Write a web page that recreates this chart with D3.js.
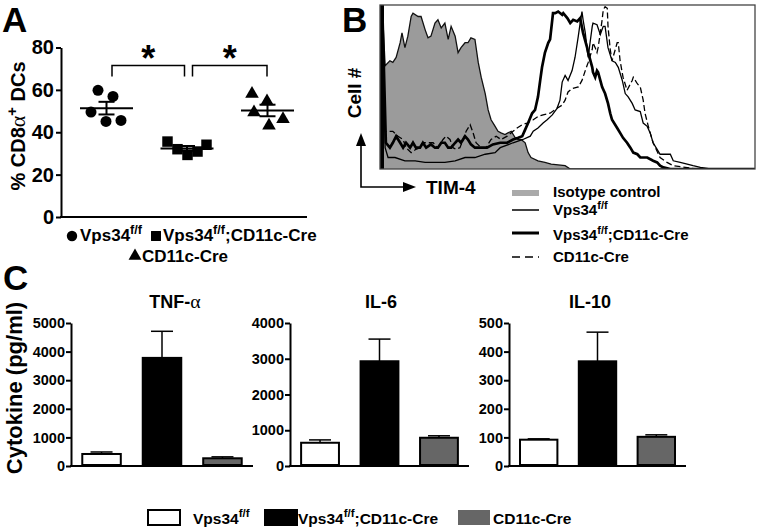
<!DOCTYPE html>
<html><head><meta charset="utf-8">
<script src="https://cdn.jsdelivr.net/npm/d3@7"></script>
<style>
body{margin:0;background:#fff;}
svg{display:block;font-family:"Liberation Sans",Arial,sans-serif;font-weight:bold;}
</style></head><body>
<svg id="fig" width="762" height="530"></svg>
<script>
// ================= DATA =================
// Panel A: % CD8a+ DCs, one value per mouse
const groupsA = ["Vps34^{f/f}", "Vps34^{f/f};CD11c-Cre", "CD11c-Cre"];
const cd8Vps34 = [59.8, 56.9, 49.5, 45.1, 45.6];
const cd8Cko   = [35.6, 32.0, 29.3, 30.9, 34.1];
const cd8Cre   = [58.1, 54.6, 49.4, 43.1, 46.2];
const ticksA   = [0, 20, 40, 60, 80];

// Panel B: TIM-4 histograms, [channel, % of max]
const tim4Isotype = [[0,0],[0,100],[6,100],[14,63],[27,66],[35,65],[44,68],[55,77],[60,83],[68,74],[76,81],[85,93],[90,95],[104,93],[112,93],[123,85],[131,80],[139,81],[150,89],[158,91],[167,86],[177,89],[186,79],[194,87],[205,81],[213,71],[221,74],[232,77],[240,77],[248,80],[259,79],[268,65],[276,56],[287,46],[295,36],[303,30],[314,26],[322,23],[330,22],[341,21],[349,22],[358,23],[369,19],[377,18],[385,18],[396,16],[404,10],[412,7],[431,5],[450,4],[467,3],[505,2],[519,0],[1023,0]];
const tim4Vps34 = [[0,0],[0,100],[6,100],[14,13],[22,7],[41,7],[68,5],[96,5],[123,4],[150,4],[177,4],[205,5],[232,7],[259,7],[287,9],[314,10],[328,13],[363,16],[390,18],[410,20],[418,23],[431,25],[445,28],[456,30],[470,33],[483,37],[491,42],[497,53],[505,57],[513,54],[524,60],[532,68],[541,81],[546,89],[551,96],[554,91],[560,83],[565,73],[568,68],[573,77],[579,87],[581,89],[592,88],[601,82],[609,87],[614,87],[622,74],[633,66],[642,65],[650,62],[661,54],[669,46],[677,44],[688,40],[696,36],[710,35],[718,28],[729,26],[737,22],[745,16],[756,12],[764,9],[792,9],[800,5],[819,4],[838,3],[854,2],[874,1],[901,0],[1023,0]];
const tim4Cko = [[0,0],[0,100],[6,100],[16,16],[27,13],[35,16],[44,20],[55,16],[63,13],[71,16],[82,13],[90,16],[98,13],[109,13],[117,16],[126,13],[139,15],[150,13],[158,13],[167,16],[177,16],[186,13],[194,13],[205,16],[213,18],[221,16],[232,20],[240,18],[248,15],[259,13],[276,13],[292,13],[308,15],[328,16],[347,16],[363,18],[377,19],[388,20],[396,24],[404,28],[415,34],[423,36],[431,44],[437,54],[442,62],[450,71],[459,77],[464,79],[472,95],[478,95],[486,96],[497,94],[500,95],[511,92],[519,89],[527,91],[538,90],[546,92],[554,83],[565,74],[568,71],[579,62],[581,59],[587,56],[592,60],[595,59],[601,54],[606,50],[614,46],[622,40],[628,34],[633,30],[647,25],[655,22],[663,19],[674,16],[683,13],[691,10],[702,9],[710,7],[729,7],[745,5],[756,4],[764,2],[773,1],[792,0],[1023,0]];
const tim4Cre = [[0,0],[0,100],[6,100],[14,23],[35,23],[49,20],[63,18],[71,13],[85,10],[98,12],[109,13],[117,16],[131,16],[145,16],[158,13],[172,18],[180,20],[191,18],[199,13],[207,12],[218,13],[227,18],[235,23],[246,27],[254,22],[262,16],[276,13],[289,13],[303,18],[317,20],[330,18],[347,20],[363,23],[374,25],[388,27],[401,28],[418,30],[431,32],[445,33],[464,34],[483,37],[497,39],[505,42],[513,47],[524,49],[541,50],[551,54],[560,60],[568,65],[579,73],[581,77],[587,74],[592,71],[595,74],[601,83],[606,91],[609,97],[614,99],[620,98],[622,87],[628,73],[633,66],[642,73],[647,77],[650,77],[655,66],[663,56],[674,48],[688,54],[691,56],[702,52],[710,50],[718,42],[723,34],[732,26],[745,16],[764,7],[783,4],[800,2],[833,1],[860,0],[1023,0]];
const legendB = ["Isotype control", "Vps34^{f/f}", "Vps34^{f/f};CD11c-Cre", "CD11c-Cre"];

// Panel C: cytokines (pg/ml), mean and SEM per genotype
const groupsC  = ["Vps34^{f/f}", "Vps34^{f/f};CD11c-Cre", "CD11c-Cre"];
const cytokines = ["TNF-α", "IL-6", "IL-10"];
const tnfMean  = [420, 3780, 270];
const tnfSem   = [70, 930, 50];
const il6Mean  = [650, 2930, 790];
const il6Sem   = [80, 620, 55];
const il10Mean = [92, 366, 102];
const il10Sem  = [3, 102, 7];
const tnfTicks  = [0, 1000, 2000, 3000, 4000, 5000];
const il6Ticks  = [0, 1000, 2000, 3000, 4000];
const il10Ticks = [0, 100, 200, 300, 400, 500];

// ================= HELPERS =================
const svg = d3.select("#fig");
function rich(sel, str, size){
  const parts = str.split(/(\^\{[^}]*\}|α)/).filter(s => s.length);
  let up = false;
  parts.forEach(p => {
    let t;
    if (p.startsWith("^{")) {
      t = sel.append("tspan").attr("font-size", size*0.74).attr("dy", -size*0.42).text(p.slice(2,-1));
      up = true; return;
    }
    t = sel.append("tspan").attr("font-size", size).text(p);
    if (p === "α") t.attr("font-family", "'Liberation Serif','DejaVu Serif',serif").attr("font-weight", "normal").attr("font-size", size*1.1);
    if (up) { t.attr("dy", size*0.42); up = false; }
  });
  return sel;
}
function styleAxis(g, fs, sw){
  g.selectAll("path.domain").attr("stroke","#000").attr("stroke-width",sw);
  g.selectAll(".tick line").attr("stroke","#000").attr("stroke-width",sw);
  g.selectAll(".tick text").attr("fill","#000").attr("font-size",fs).attr("font-weight","bold")
    .attr("font-family","'Liberation Sans',Arial,sans-serif");
}
const label = (x, y, s) => svg.append("text").attr("x",x).attr("y",y).attr("font-size",35).text(s);

// ================= PANEL A =================
label(2, 32, "A");
const yA = d3.scaleLinear().domain([0, 80]).range([217, 47.5]);
const xA = d3.scalePoint().domain(groupsA).range([106.5, 267.5]);
const gAy = svg.append("g").attr("transform","translate(61,0)")
  .call(d3.axisLeft(yA).tickValues(ticksA).tickSize(5).tickSizeOuter(0).tickPadding(2));
styleAxis(gAy, 20, 2);
svg.append("line").attr("x1",60).attr("x2",307).attr("y1",yA(0)).attr("y2",yA(0)).attr("stroke","#000").attr("stroke-width",2);
svg.append("text").attr("transform","translate(25,126) rotate(-90)").attr("text-anchor","middle")
  .call(s => rich(s, "% CD8α^{+} DCs", 20));

const seriesA = [cd8Vps34, cd8Cko, cd8Cre];
const symbolsA = [d3.symbolCircle, d3.symbolSquare, d3.symbolTriangle];
const symSize = [95, 110, 80];
const dotDx = [[-8.5, 6.5, -15.5, -0.5, 14.5], [-19.5, -9.5, 0.5, 10.5, 19.5], [-15.5, -0.5, -13.5, 1.5, 15.5]];
seriesA.forEach((vals, gi) => {
  const cx = xA(groupsA[gi]);
  const g = svg.append("g");
  g.selectAll("path.pt").data(vals).join("path").attr("class","pt")
    .attr("transform",(d,i)=>`translate(${cx+dotDx[gi][i]},${yA(d)})`)
    .attr("d", d3.symbol().type(symbolsA[gi]).size(symSize[gi])).attr("fill","#000");
  const m = d3.mean(vals), sem = d3.deviation(vals)/Math.sqrt(vals.length);
  g.append("line").attr("x1",cx-26.5).attr("x2",cx+26.5).attr("y1",yA(m)).attr("y2",yA(m)).attr("stroke","#000").attr("stroke-width",2);
  g.append("line").attr("x1",cx).attr("x2",cx).attr("y1",yA(m-sem)).attr("y2",yA(m+sem)).attr("stroke","#000").attr("stroke-width",2);
  [m-sem, m+sem].forEach(v => g.append("line").attr("x1",cx-8).attr("x2",cx+8).attr("y1",yA(v)).attr("y2",yA(v)).attr("stroke","#000").attr("stroke-width",2));
});
// significance brackets
[[0,1,5.5,-2.5],[1,2,5.5,-0.5]].forEach(([a,b,da,db]) => {
  const x1 = xA(groupsA[a]) + da, x2 = xA(groupsA[b]) + db;
  const yt = yA(71.5), yb = yA(66.3);
  svg.append("path").attr("d",`M${x1},${yb}V${yt}H${x2}V${yb}`).attr("fill","none").attr("stroke","#000").attr("stroke-width",1.5);
  svg.append("text").attr("x",(x1+x2)/2).attr("y",71).attr("text-anchor","middle").attr("font-size",36).text("*");
});
// legend A
const legA = [[72,236,0,80,241],[156,236,1,163,241],[135,256,2,142,262]];
legA.forEach(([sx,sy,i,tx,ty]) => {
  svg.append("path").attr("transform",`translate(${sx},${sy})`).attr("d", d3.symbol().type(symbolsA[i]).size(symSize[i]*0.9)).attr("fill","#000");
  svg.append("text").attr("x",tx).attr("y",ty).call(s => rich(s, groupsA[i], 17));
});

// ================= PANEL B =================
label(342, 32, "B");
const bx0 = 380, bx1 = 755, by0 = 5, by1 = 169;
const xB = d3.scaleLinear().domain([0, 1023]).range([bx0, bx1]);
const yB = d3.scaleLinear().domain([0, 100]).range([by1, by0]);
svg.append("clipPath").attr("id","clipB").append("rect").attr("x",bx0).attr("y",by0).attr("width",bx1-bx0).attr("height",by1-by0);
const gB = svg.append("g").attr("clip-path","url(#clipB)");
gB.append("path").datum(tim4Isotype).attr("d", d3.area().x(d=>xB(d[0])).y0(yB(0)).y1(d=>yB(d[1])))
  .attr("fill","#9b9b9b").attr("stroke","none");
const lineB = d3.line().x(d=>xB(d[0])).y(d=>yB(d[1]));
gB.append("path").datum(tim4Isotype).attr("d",lineB).attr("fill","none").attr("stroke","#111").attr("stroke-width",1.3);
gB.append("path").datum(tim4Vps34).attr("d",lineB).attr("fill","none").attr("stroke","#000").attr("stroke-width",1.3);
gB.append("path").datum(tim4Cre).attr("d",lineB).attr("fill","none").attr("stroke","#000").attr("stroke-width",1.3).attr("stroke-dasharray","6,3");
gB.append("path").datum(tim4Cko).attr("d",lineB).attr("fill","none").attr("stroke","#000").attr("stroke-width",2.7);
gB.append("rect").attr("x",bx0).attr("y",by0).attr("width",4).attr("height",by1-by0).attr("fill","#000");
svg.append("rect").attr("x",bx0).attr("y",by0).attr("width",bx1-bx0).attr("height",by1-by0)
  .attr("fill","none").attr("stroke","#444").attr("stroke-width",1.3);
// axis arrows
svg.append("path").attr("d","M361,144V187H405").attr("fill","none").attr("stroke","#000").attr("stroke-width",1.6);
svg.append("path").attr("d","M361,133L356,146L366,146Z").attr("fill","#000");
svg.append("path").attr("d","M416,187L403,182L403,192Z").attr("fill","#000");
svg.append("text").attr("x",426).attr("y",194).attr("font-size",19).text("TIM-4");
svg.append("text").attr("transform","translate(361,93) rotate(-90)").attr("text-anchor","middle").attr("font-size",19).text("Cell #");
// legend B
const legBy = [[193,197],[210,215],[233,240],[257,262]];
svg.append("rect").attr("x",512).attr("y",190).attr("width",27).attr("height",6).attr("fill","#aaa");
svg.append("line").attr("x1",512).attr("x2",539).attr("y1",legBy[1][0]).attr("y2",legBy[1][0]).attr("stroke","#000").attr("stroke-width",1.5);
svg.append("line").attr("x1",512).attr("x2",539).attr("y1",legBy[2][0]).attr("y2",legBy[2][0]).attr("stroke","#000").attr("stroke-width",3);
svg.append("line").attr("x1",512).attr("x2",539).attr("y1",legBy[3][0]).attr("y2",legBy[3][0]).attr("stroke","#000").attr("stroke-width",1.5).attr("stroke-dasharray","8,5");
legendB.forEach((t,i) => svg.append("text").attr("x",553).attr("y",legBy[i][1]).call(s => rich(s, t, 15)));

// ================= PANEL C =================
label(3, 290, "C");
svg.append("text").attr("transform","translate(22,388) rotate(-90)").attr("text-anchor","middle").attr("font-size",22).text("Cytokine (pg/ml)");
const fillsC = ["#fff", "#000", "#666"];
const chartsC = [
  {mean: tnfMean, sem: tnfSem, ticks: tnfTicks, x0: 71, x1: 253, tx: 175},
  {mean: il6Mean, sem: il6Sem, ticks: il6Ticks, x0: 290, x1: 469, tx: 381},
  {mean: il10Mean, sem: il10Sem, ticks: il10Ticks, x0: 509, x1: 686, tx: 590}
];
chartsC.forEach((c, ci) => {
  const y = d3.scaleLinear().domain([0, d3.max(c.ticks)]).range([466, 323]);
  const x = d3.scaleBand().domain(groupsC).range([c.x0, c.x1]).paddingInner(0.33).paddingOuter(0.17);
  const g = svg.append("g");
  groupsC.forEach((k, i) => {
    const cx = x(k) + x.bandwidth()/2;
    g.append("line").attr("x1",cx).attr("x2",cx).attr("y1",y(c.mean[i])).attr("y2",y(c.mean[i]+c.sem[i])).attr("stroke","#000").attr("stroke-width",1.5);
    g.append("line").attr("x1",cx-11).attr("x2",cx+11).attr("y1",y(c.mean[i]+c.sem[i])).attr("y2",y(c.mean[i]+c.sem[i])).attr("stroke","#000").attr("stroke-width",1.5);
  });
  g.selectAll("rect.bar").data(c.mean).join("rect").attr("class","bar")
    .attr("x",(d,i)=>x(groupsC[i])+1).attr("width",x.bandwidth()-2)
    .attr("y",d=>y(d)).attr("height",d=>y(0)-y(d)-1)
    .attr("fill",(d,i)=>fillsC[i]).attr("stroke","#000").attr("stroke-width",2);
  const ga = svg.append("g").attr("transform",`translate(${c.x0},0)`)
    .call(d3.axisLeft(y).tickValues(c.ticks).tickFormat(d3.format("d")).tickSize(5).tickSizeOuter(0).tickPadding(1));
  styleAxis(ga, 14.5, 2);
  svg.append("line").attr("x1",c.x0-1).attr("x2",c.x1).attr("y1",y(0)).attr("y2",y(0)).attr("stroke","#000").attr("stroke-width",2);
  svg.append("text").attr("x",c.tx).attr("y",308).attr("text-anchor","middle").call(s => rich(s, cytokines[ci], 18));
});
// legend C
const legC = [[148,193],[265,298],[458,493]];
legC.forEach(([bx,tx],i) => {
  svg.append("rect").attr("x",bx).attr("y",510).attr("width",32).attr("height",15)
    .attr("fill",fillsC[i]).attr("stroke", i===2 ? "none" : "#000").attr("stroke-width",2);
  svg.append("text").attr("x",tx).attr("y",524).call(s => rich(s, groupsC[i], 15.5));
});
</script>
</body></html>
